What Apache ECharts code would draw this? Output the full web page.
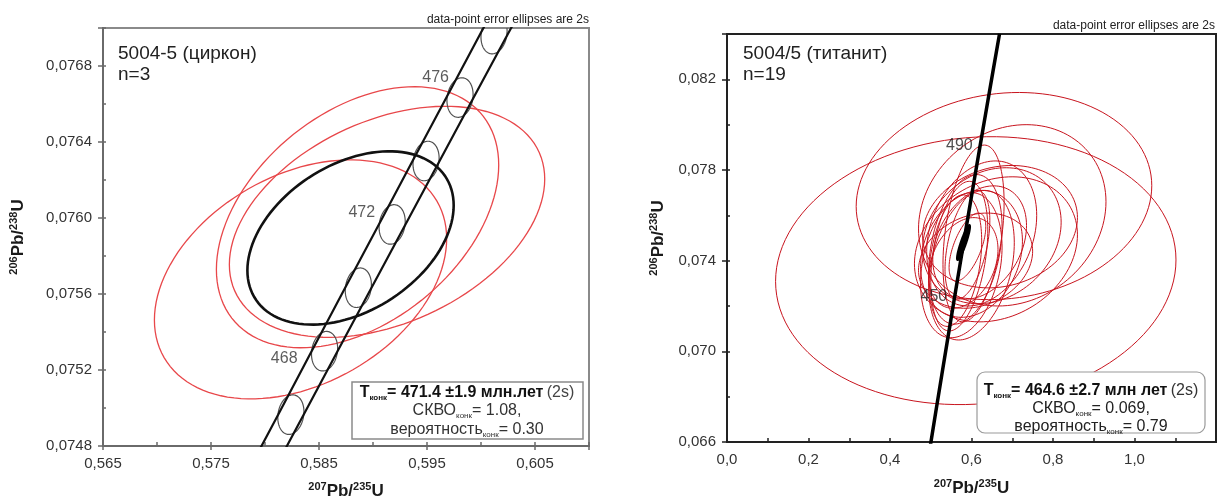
<!DOCTYPE html>
<html>
<head>
<meta charset="utf-8">
<script src="https://cdn.jsdelivr.net/npm/echarts@6/dist/echarts.min.js"></script>
<style>
html,body{margin:0;padding:0;background:#fff;}
#chart{width:1227px;height:497px;}
</style>
</head>
<body>
<div id="chart"></div>
<script>
// ---------------- DATA : zircon panel (5004-5) ----------------
const zrnXRange = [0.565, 0.610];
const zrnXStep = 0.01;
const zrnYRange = [0.0748, 0.0770];
const zrnYStep = 0.0004;
// concordia (Ma) and its ratios
const zrnConcAges = [462, 464, 466, 468, 470, 472, 474, 476, 478, 480, 482];
const zrnConcX = [0.576174, 0.579282, 0.582396, 0.585515, 0.588642, 0.591774, 0.594912, 0.598057, 0.601207, 0.604365, 0.607528];
const zrnConcY = [0.074298, 0.074632, 0.074965, 0.075299, 0.075633, 0.075966, 0.076300, 0.076634, 0.076968, 0.077302, 0.077637];
// half-width (in 207/235) of the decay-constant error band
const zrnBandHalf = [0.00115, 0.00117, 0.00118, 0.00120, 0.00122, 0.00123, 0.00125, 0.00126, 0.00128, 0.00130, 0.00131];
const zrnMarkerAges = [466, 468, 470, 472, 474, 476, 478];
const zrnMarkerErr = [0.00121, 0.000104, 0.15]; // sx, sy, rho
const zrnLabelAges = [468, 472, 476];
// data-point ellipses: [x, y, 2s x, 2s y, rho]
const zrnEllipses = [
  [0.58329, 0.075677, 0.01353, 0.000629, 0.34],
  [0.58857, 0.076004, 0.01307, 0.000687, 0.40],
  [0.59130, 0.075980, 0.01460, 0.000608, 0.37]
];
const zrnConcordiaEllipse = [[0.58792, 0.075895, 0.00955, 0.000456, 0.375]];

// ---------------- DATA : titanite panel (5004/5) ----------------
const ttnXRange = [0, 1.2];
const ttnXStep = 0.2;
const ttnYRange = [0.066, 0.084];
const ttnYStep = 0.004;
const ttnConcAges = [410, 420, 430, 440, 450, 460, 470, 480, 490, 500, 510, 520];
const ttnConcX = [0.497487, 0.512308, 0.527276, 0.542391, 0.557657, 0.573073, 0.588642, 0.604365, 0.620244, 0.636280, 0.652474, 0.668829];
const ttnConcY = [0.065668, 0.067322, 0.068979, 0.070638, 0.072300, 0.073965, 0.075633, 0.077302, 0.078975, 0.080650, 0.082327, 0.084008];
const ttnLabelAges = [450, 490];
const ttnEllipses = [
  [0.6105, 0.07356, 0.4913, 0.00591, 0.08],
  [0.6797, 0.07685, 0.3627, 0.00457, 0.10],
  [0.7000, 0.07600, 0.2300, 0.00400, 0.15],
  [0.6600, 0.07450, 0.2000, 0.00320, 0.20],
  [0.605, 0.0752, 0.075, 0.0039, 0.35],
  [0.625, 0.0752, 0.135, 0.0032, 0.25],
  [0.650, 0.0751, 0.170, 0.0030, 0.20],
  [0.585, 0.0745, 0.090, 0.0033, 0.30],
  [0.575, 0.0738, 0.100, 0.0032, 0.25],
  [0.600, 0.0743, 0.125, 0.0028, 0.20],
  [0.570, 0.0742, 0.070, 0.0033, 0.35],
  [0.620, 0.0748, 0.115, 0.0025, 0.30],
  [0.560, 0.0740, 0.065, 0.0029, 0.30],
  [0.610, 0.0740, 0.140, 0.0021, 0.20],
  [0.590, 0.0747, 0.055, 0.0024, 0.45],
  [0.580, 0.0739, 0.085, 0.0020, 0.30],
  [0.670, 0.0755, 0.190, 0.0027, 0.15],
  [0.600, 0.0738, 0.105, 0.0033, 0.30],
  [0.590, 0.0746, 0.045, 0.0015, 0.60]
];
const ttnConcordiaEllipse = [[0.5804, 0.0748, 0.016, 0.00077, 0.9]];

// ---------------- presentation ----------------
const FONT = 'Liberation Sans, Arial, Helvetica, sans-serif';
const zrnLabelOffsets = [[-27, 7], [-17, -12], [-11, -20]];
const ttnLabelOffsets = [[-7, -3], [-7, -2]];

function ellipseRenderer(style) {
  return function (params, api) {
    const cx = api.value(0), cy = api.value(1), sx = api.value(2), sy = api.value(3), r = api.value(4);
    const q = Math.sqrt(1 - r * r);
    const pts = [];
    for (let i = 0; i < 120; i++) {
      const t = i / 120 * Math.PI * 2;
      const c = Math.cos(t), s = Math.sin(t);
      pts.push(api.coord([cx + sx * c, cy + sy * (r * c + q * s)]));
    }
    return { type: 'polygon', shape: { points: pts }, style: style };
  };
}

function fmt(dec, max) {
  return function (v) {
    if (Math.abs(v - max) < 1e-9) return '';
    return v.toFixed(dec).replace('.', ',');
  };
}

const supRich = function (color) {
  return {
    sup: { fontSize: 11, fontWeight: 'bold', verticalAlign: 'top', lineHeight: 12, color: color, fontFamily: FONT },
    b: { fontSize: 17, fontWeight: 'bold', lineHeight: 20, color: color, fontFamily: FONT }
  };
};

function mainX(grid, range, step, dec, name, gap, color, tickInside) {
  return {
    gridIndex: grid, type: 'value', min: range[0], max: range[1], interval: step,
    position: 'bottom',
    axisLine: { show: true, onZero: false, lineStyle: { color: color, width: 2 } },
    axisTick: { show: !tickInside, inside: false, length: 4, lineStyle: { color: color, width: 1.5 } },
    splitLine: { show: false },
    axisLabel: { formatter: fmt(dec, range[1]), fontSize: 15, color: '#333', margin: 10, fontFamily: FONT },
    name: name, nameLocation: 'middle', nameGap: gap,
    nameTextStyle: { rich: supRich('#1a1a1a') }
  };
}
function minorX(grid, range, step, color, len) {
  return {
    gridIndex: grid, type: 'value', min: range[0], max: range[1], interval: step,
    position: 'bottom', offset: 0,
    axisLine: { show: false, onZero: false },
    axisTick: { show: true, inside: true, length: len, lineStyle: { color: color, width: 1.5 } },
    splitLine: { show: false }, axisLabel: { show: false }
  };
}
function mainY(grid, range, step, dec, name, gap, color) {
  return {
    gridIndex: grid, type: 'value', min: range[0], max: range[1], interval: step,
    position: 'left',
    axisLine: { show: true, onZero: false, lineStyle: { color: color, width: 2 } },
    axisTick: { show: true, inside: false, length: 5, lineStyle: { color: color, width: 1.5 } },
    splitLine: { show: false },
    axisLabel: { formatter: fmt(dec, range[1]), fontSize: 15, color: '#333', margin: 11, fontFamily: FONT },
    name: name, nameLocation: 'middle', nameGap: gap, nameRotate: 90,
    nameTextStyle: { rich: supRich('#1a1a1a') }
  };
}
function minorY(grid, range, step, color, len) {
  return {
    gridIndex: grid, type: 'value', min: range[0], max: range[1], interval: step,
    position: 'left', offset: 0,
    axisLine: { show: false, onZero: false },
    axisTick: { show: true, inside: true, length: len, lineStyle: { color: color, width: 1.5 } },
    splitLine: { show: false }, axisLabel: { show: false }
  };
}

// concordia band lines and markers built from the arrays
const zrnBandLo = zrnConcAges.map((a, i) => [zrnConcX[i] - zrnBandHalf[i], zrnConcY[i]]);
const zrnBandHi = zrnConcAges.map((a, i) => [zrnConcX[i] + zrnBandHalf[i], zrnConcY[i]]);
const zrnMarkers = zrnMarkerAges.map(a => {
  const i = zrnConcAges.indexOf(a);
  return [zrnConcX[i], zrnConcY[i], zrnMarkerErr[0], zrnMarkerErr[1], zrnMarkerErr[2]];
});
const zrnLabels = zrnLabelAges.map((a, k) => {
  const i = zrnConcAges.indexOf(a);
  return { value: [zrnConcX[i], zrnConcY[i]], label: { formatter: String(a), offset: zrnLabelOffsets[k] } };
});
const ttnLine = ttnConcAges.map((a, i) => [ttnConcX[i], ttnConcY[i]]);
const ttnLabels = ttnLabelAges.map((a, k) => {
  const i = ttnConcAges.indexOf(a);
  return { value: [ttnConcX[i], ttnConcY[i]], label: { formatter: String(a), offset: ttnLabelOffsets[k] } };
});

const LGRAY = '#6a6a6a';
const RDARK = '#222';

const option = {
  animation: false,
  backgroundColor: '#fff',
  textStyle: { fontFamily: FONT },
  grid: [
    { left: 103, top: 28, width: 486, height: 418, outerBoundsMode: 'none', containLabel: false,
      show: true, borderColor: '#8a8a8a', borderWidth: 2, backgroundColor: 'transparent' },
    { left: 727, top: 34, width: 489, height: 408, outerBoundsMode: 'none', containLabel: false,
      show: true, borderColor: RDARK, borderWidth: 2, backgroundColor: 'transparent' }
  ],
  xAxis: [
    mainX(0, zrnXRange, zrnXStep, 3, '{sup|207}{b|Pb/}{sup|235}{b|U}', 35, LGRAY, false),
    minorX(0, zrnXRange, zrnXStep / 2, LGRAY, 4),
    mainX(1, ttnXRange, ttnXStep, 1, '{sup|207}{b|Pb/}{sup|235}{b|U}', 36, RDARK, true),
    minorX(1, ttnXRange, ttnXStep / 2, RDARK, 4)
  ],
  yAxis: [
    mainY(0, zrnYRange, zrnYStep, 4, '{sup|206}{b|Pb/}{sup|238}{b|U}', 75, LGRAY),
    minorY(0, zrnYRange, zrnYStep / 2, LGRAY, 3),
    mainY(1, ttnYRange, ttnYStep, 3, '{sup|206}{b|Pb/}{sup|238}{b|U}', 59, RDARK),
    minorY(1, ttnYRange, ttnYStep / 2, RDARK, 3)
  ],
  series: [
    // ---- zircon panel ----
    { type: 'custom', xAxisIndex: 0, yAxisIndex: 0, clip: true, silent: true,
      renderItem: ellipseRenderer({ fill: 'none', stroke: '#e8474a', lineWidth: 1.3 }),
      data: zrnEllipses },
    { type: 'line', xAxisIndex: 0, yAxisIndex: 0, showSymbol: false, silent: true, clip: true,
      lineStyle: { color: '#111', width: 2.2 }, data: zrnBandLo },
    { type: 'line', xAxisIndex: 0, yAxisIndex: 0, showSymbol: false, silent: true, clip: true,
      lineStyle: { color: '#111', width: 2.2 }, data: zrnBandHi },
    { type: 'custom', xAxisIndex: 0, yAxisIndex: 0, clip: true, silent: true,
      renderItem: ellipseRenderer({ fill: 'none', stroke: '#505050', lineWidth: 1.2 }),
      data: zrnMarkers },
    { type: 'custom', xAxisIndex: 0, yAxisIndex: 0, clip: true, silent: true,
      renderItem: ellipseRenderer({ fill: 'none', stroke: '#111', lineWidth: 2.6 }),
      data: zrnConcordiaEllipse },
    { type: 'scatter', xAxisIndex: 0, yAxisIndex: 0, symbolSize: 0, silent: true,
      label: { show: true, position: 'left', distance: 0, fontSize: 16, color: '#333', fontFamily: FONT },
      data: zrnLabels },
    // ---- titanite panel ----
    { type: 'custom', xAxisIndex: 2, yAxisIndex: 2, clip: true, silent: true,
      renderItem: ellipseRenderer({ fill: 'none', stroke: '#c8141e', lineWidth: 1 }),
      data: ttnEllipses },
    { type: 'line', xAxisIndex: 2, yAxisIndex: 2, showSymbol: false, silent: true, clip: true, smooth: false,
      lineStyle: { color: '#000', width: 3.5 }, data: ttnLine },
    { type: 'custom', xAxisIndex: 2, yAxisIndex: 2, clip: true, silent: true,
      renderItem: ellipseRenderer({ fill: '#000', stroke: '#000', lineWidth: 2 }),
      data: ttnConcordiaEllipse },
    { type: 'scatter', xAxisIndex: 2, yAxisIndex: 2, symbolSize: 0, silent: true,
      label: { show: true, position: 'left', distance: 0, fontSize: 16, color: '#222', fontFamily: FONT },
      data: ttnLabels }
  ],
  graphic: [
    { type: 'text', x: 589, y: 20, z: 100, style: { text: 'data-point error ellipses are 2s', align: 'right', verticalAlign: 'middle', fontSize: 12, fill: '#222', fontFamily: FONT } },
    { type: 'text', x: 1215, y: 26, z: 100, style: { text: 'data-point error ellipses are 2s', align: 'right', verticalAlign: 'middle', fontSize: 12, fill: '#222', fontFamily: FONT } },
    { type: 'text', x: 118, y: 43, z: 100, style: { text: '5004-5 (циркон)\nn=3', align: 'left', verticalAlign: 'top', fontSize: 19, lineHeight: 21, fill: '#222', fontFamily: FONT } },
    { type: 'text', x: 743, y: 43, z: 100, style: { text: '5004/5 (титанит)\nn=19', align: 'left', verticalAlign: 'top', fontSize: 19, lineHeight: 21, fill: '#222', fontFamily: FONT } },
    { type: 'rect', z: 100, shape: { x: 352, y: 382, width: 231, height: 57 }, style: { fill: '#fff', stroke: '#8a8a8a', lineWidth: 1.5 } },
    { type: 'text', x: 467, y: 411, z: 101, style: {
        text: '{b|T}{bs|конк}{b|= 471.4 ±1.9 млн.лет} {n|(2s)}\n{m|СКВО}{s|конк}{m|= 1.08,}\n{m|вероятность}{s|конк}{m|= 0.30}',
        align: 'center', verticalAlign: 'middle', fontFamily: FONT,
        rich: {
          b: { fontSize: 16, fontWeight: 'bold', lineHeight: 18.5, fill: '#111', fontFamily: FONT },
          bs: { fontSize: 8, fontWeight: 'bold', lineHeight: 10, verticalAlign: 'bottom', fill: '#111', fontFamily: FONT },
          n: { fontSize: 16, lineHeight: 18.5, fill: '#444', fontFamily: FONT },
          m: { fontSize: 16, lineHeight: 18.5, fill: '#333', fontFamily: FONT },
          s: { fontSize: 8, lineHeight: 10, verticalAlign: 'bottom', fill: '#333', fontFamily: FONT }
        } } },
    { type: 'rect', z: 100, shape: { x: 977, y: 372, width: 228, height: 61, r: 8 }, style: { fill: '#fff', stroke: '#9a9a9a', lineWidth: 1.2 } },
    { type: 'text', x: 1091, y: 409, z: 101, style: {
        text: '{b|T}{bs|конк}{b|= 464.6 ±2.7 млн лет} {n|(2s)}\n{m|СКВО}{s|конк}{m|= 0.069,}\n{m|вероятность}{s|конк}{m|= 0.79}',
        align: 'center', verticalAlign: 'middle', fontFamily: FONT,
        rich: {
          b: { fontSize: 16, fontWeight: 'bold', lineHeight: 18, fill: '#111', fontFamily: FONT },
          bs: { fontSize: 8, fontWeight: 'bold', lineHeight: 10, verticalAlign: 'bottom', fill: '#111', fontFamily: FONT },
          n: { fontSize: 16, lineHeight: 18, fill: '#333', fontFamily: FONT },
          m: { fontSize: 16, lineHeight: 18, fill: '#222', fontFamily: FONT },
          s: { fontSize: 8, lineHeight: 10, verticalAlign: 'bottom', fill: '#222', fontFamily: FONT }
        } } }
  ]
};

const chart = echarts.init(document.getElementById('chart'), null, { renderer: 'canvas' });
chart.setOption(option);
</script>
</body>
</html>
